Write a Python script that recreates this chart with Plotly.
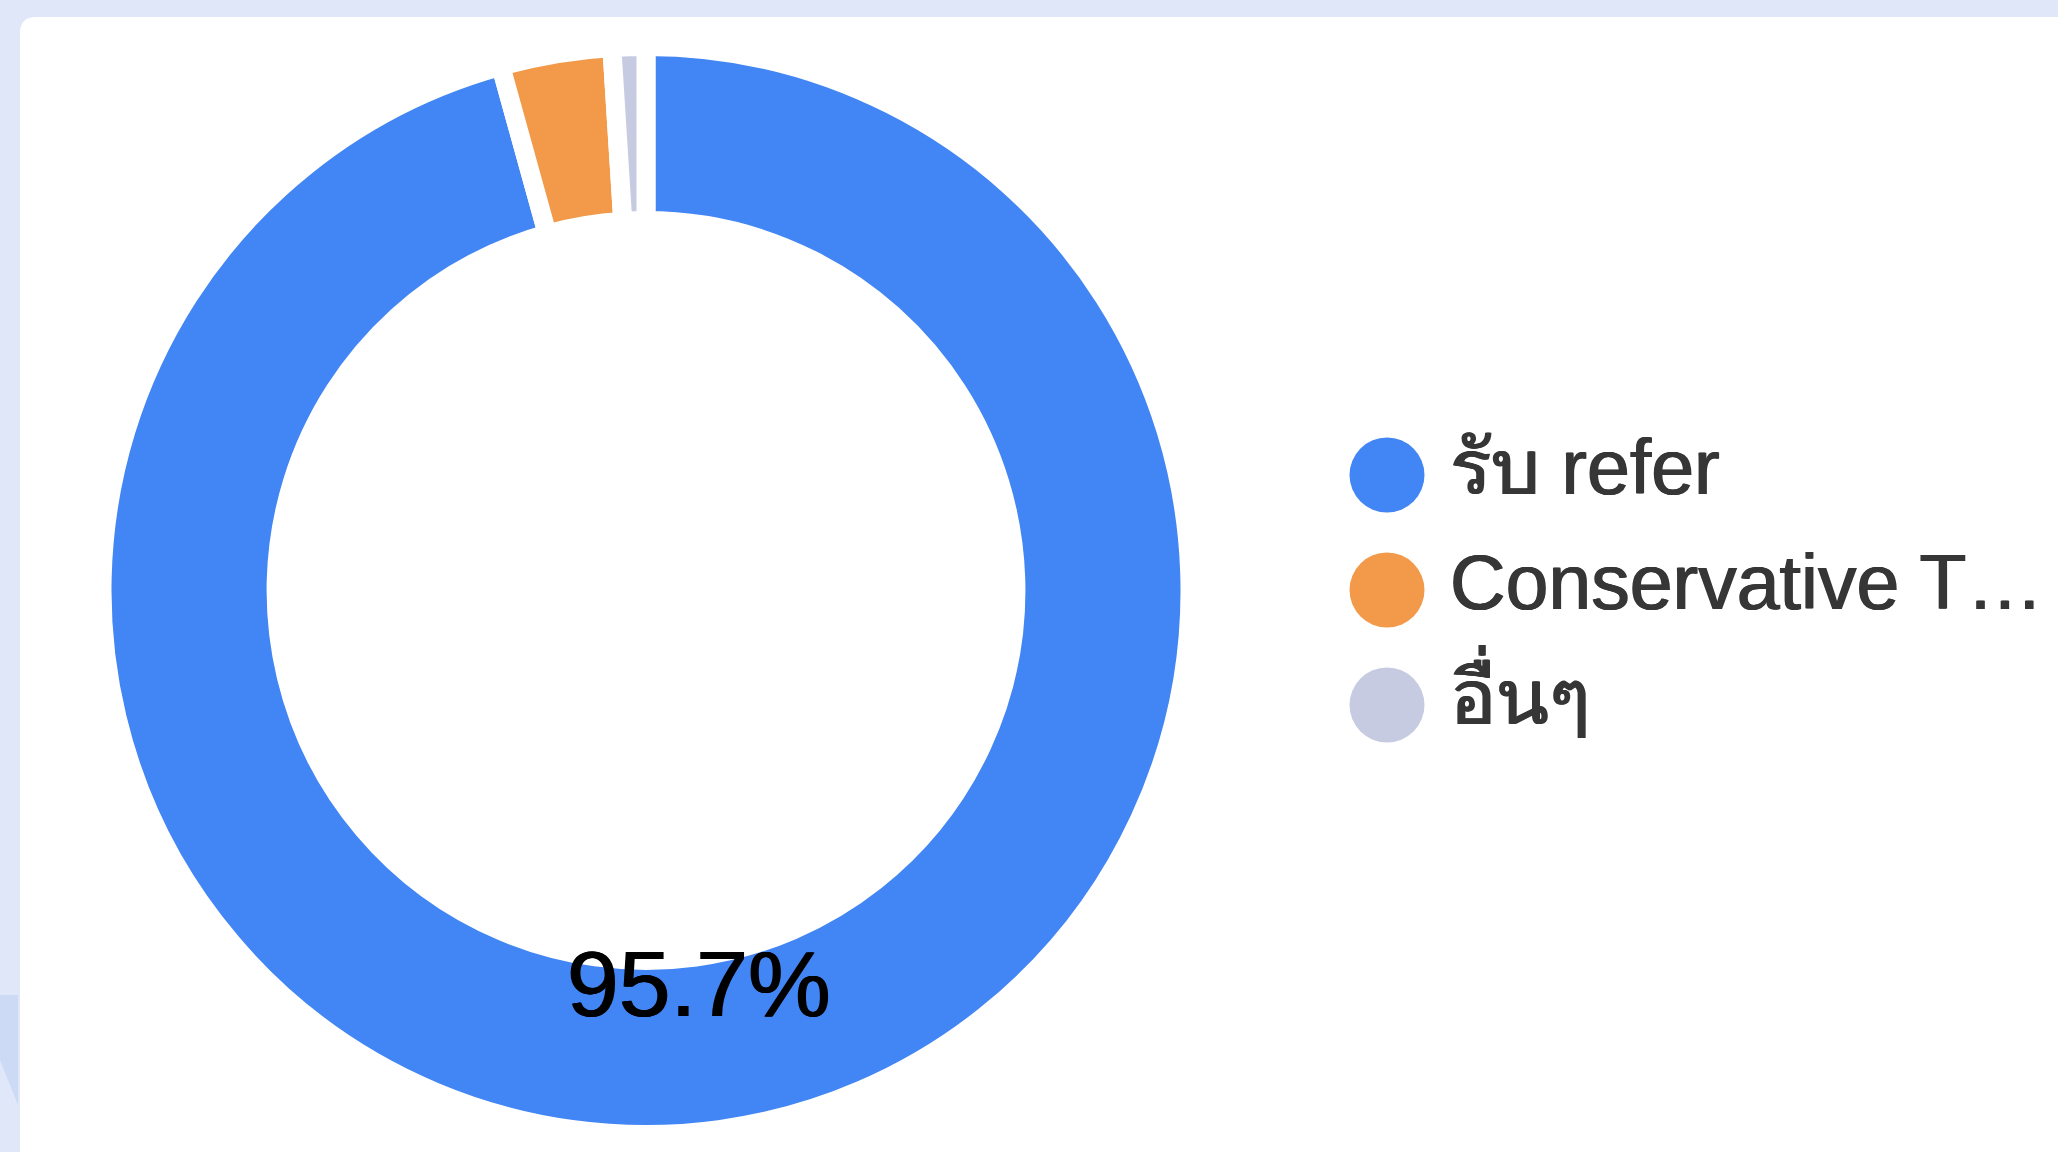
import math
import plotly.graph_objects as go

# ---- data ----
categories = ["รับ refer", "Conservative T…", "อื่นๆ"]
values = [95.7, 3.3, 1.0]
label_texts = ["95.7%", "", ""]
colors = ["#4285F4", "#F2994A", "#C6CBE1"]
legend_index = [0, 1, 2]

W, H = 2058, 1152
FONT = "Liberation Sans, Arial, Helvetica, sans-serif"

fig = go.Figure()

# donut
cx, cy, R = 646, 590.5, 544
fig.add_trace(go.Pie(
    labels=categories,
    values=values,
    textinfo="none",
    marker=dict(colors=colors, line=dict(color="#ffffff", width=19)),
    hole=0.68,
    sort=False,
    direction="clockwise",
    rotation=0,
    showlegend=False,
    domain=dict(x=[(cx - R) / W, (cx + R) / W], y=[1 - (cy + R) / H, 1 - (cy - R) / H]),
    hoverinfo="label+percent",
))

# slice labels placed at the mid-angle of each slice
total = sum(values)
annotations = []
cum = 0.0
r_label = 397
for v, t in zip(values, label_texts):
    mid = (cum + v / 2) / total * 2 * math.pi
    cum += v
    if not t:
        continue
    lx = cx + r_label * math.sin(mid)
    ly = cy - r_label * math.cos(mid)
    annotations.append(dict(
        x=lx / W, y=1 - ly / H, xref="paper", yref="paper", text=t, showarrow=False,
        xanchor="center", yanchor="middle",
        font=dict(family=FONT, size=93, color="#000000",
                  shadow="0.7px 0 0 #000, -0.7px 0 0 #000"),
    ))

# legend drawn as scatter (circle markers + labels)
fig.add_trace(go.Scatter(
    x=[0] * len(categories), y=legend_index,
    mode="markers",
    marker=dict(size=75, color=colors, line=dict(width=0)),
    xaxis="x2", yaxis="y2", showlegend=False, hoverinfo="skip",
))
fig.add_trace(go.Scatter(
    x=[63] * len(categories), y=legend_index,
    mode="text",
    text=categories,
    textposition="middle right",
    textfont=dict(family=FONT, size=77, color="#363636",
                  shadow="0.7px 0 0 #363636, -0.7px 0 0 #363636"),
    xaxis="x2", yaxis="y2", showlegend=False, hoverinfo="skip",
))

x0 = 0.6
span_px = (1 - x0) * W
left_px = 1387 - x0 * W
row_px = 115
top_y = 475

# card background
r = 16
cl, ct = 20, 17
def px(x): return x / W
def py(y): return 1 - y / H
path = (f"M {px(cl)},{py(H + 50)} L {px(cl)},{py(ct + r)} "
        f"Q {px(cl)},{py(ct)} {px(cl + r)},{py(ct)} "
        f"L {px(W + 50)},{py(ct)} L {px(W + 50)},{py(H + 50)} Z")

fig.update_layout(
    width=W, height=H,
    margin=dict(l=0, r=0, t=0, b=0),
    paper_bgcolor="#dfe7f8",
    plot_bgcolor="rgba(0,0,0,0)",
    xaxis2=dict(domain=[x0, 1], range=[-left_px, span_px - left_px], visible=False, fixedrange=True),
    yaxis2=dict(domain=[0, 1], range=[(H - top_y) / row_px, -top_y / row_px], visible=False,
                fixedrange=True, anchor="x2"),
    shapes=[
        dict(type="path", path=path, xref="paper", yref="paper",
             fillcolor="#ffffff", line=dict(width=0), layer="below"),
        dict(type="path", xref="paper", yref="paper",
             path=f"M {px(0)},{py(995)} L {px(18)},{py(995)} L {px(18)},{py(1105)} L {px(0)},{py(1060)} Z",
             fillcolor="#cddaf6", line=dict(width=0), layer="below"),
    ],
    annotations=annotations,
    font=dict(family=FONT),
)

fig.write_html("out.html", config={"displayModeBar": False},
               post_script="document.body.style.margin='0px';document.body.style.overflow='hidden';")
